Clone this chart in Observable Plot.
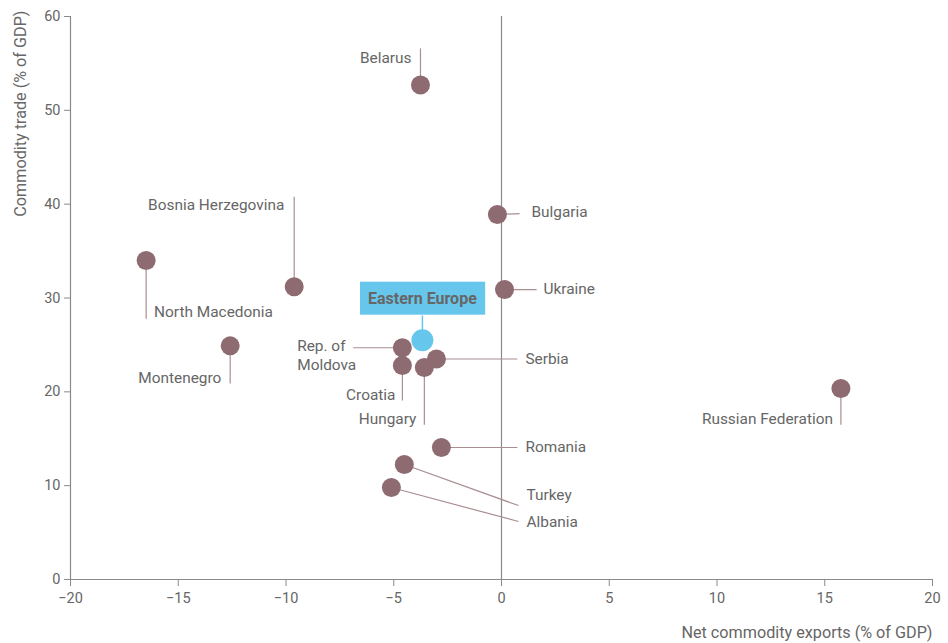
<!DOCTYPE html>
<html>
<head>
<meta charset="utf-8">
<script src="https://cdn.jsdelivr.net/npm/d3@7"></script>
<script src="https://cdn.jsdelivr.net/npm/@observablehq/plot@0.6"></script>
<style>
  html, body { margin: 0; padding: 0; background: #fff; }
  #chart svg { display: block; }
</style>
</head>
<body>
<div id="chart"></div>
<script>
// Data
const countries = ["Belarus", "Bulgaria", "Ukraine", "Bosnia Herzegovina", "North Macedonia", "Montenegro",
  "Rep. of\nMoldova", "Serbia", "Croatia", "Hungary", "Russian Federation", "Romania", "Turkey", "Albania"];
const netCommodityExports = [-3.76, -0.19, 0.14, -9.62, -16.49, -12.59, -4.6, -3.02, -4.6, -3.58, 15.75, -2.79, -4.51, -5.11];
const commodityTrade = [52.7, 38.9, 30.9, 31.2, 34.0, 24.9, 24.7, 23.5, 22.8, 22.6, 20.35, 14.07, 12.25, 9.8];

// Annotation anchors (data units): leader line ends and label positions
const leaderEndX = [-3.76, 0.84, 1.63, -9.62, -16.49, -12.59, -6.88, 0.74, -4.6, -3.58, 15.75, 0.74, 0.79, 0.79];
const leaderEndY = [56.6, 39.0, 30.9, 40.8, 27.8, 20.9, 24.7, 23.5, 19.07, 16.5, 16.5, 14.07, 7.88, 6.18];
const labelX = [-4.18, 1.39, 1.95, -10.08, -16.12, -13.0, -9.48, 1.11, -4.92, -3.95, 15.38, 1.11, 1.16, 1.16];
const labelY = [55.5, 39.1, 30.9, 39.85, 28.45, 21.4, 23.87, 23.5, 19.6, 17.05, 17.05, 14.07, 8.95, 6.07];
const labelAnchor = ["end", "start", "start", "end", "start", "end", "start", "start", "end", "end", "end", "start", "start", "start"];

const regionName = "Eastern Europe";
const regionX = -3.67;
const regionY = 25.5;
const regionLeaderEndY = 28.13;
const regionLabelY = 29.94;

const xTicks = [-20, -15, -10, -5, 0, 5, 10, 15, 20];
const yTicks = [0, 10, 20, 30, 40, 50, 60];

const xTitle = "Net commodity exports (% of GDP)";
const yTitle = "Commodity trade (% of GDP)";

const rows = countries.map((c, i) => ({
  name: c, x: netCommodityExports[i], y: commodityTrade[i],
  ex: leaderEndX[i], ey: leaderEndY[i], lx: labelX[i], ly: labelY[i], anchor: labelAnchor[i]
}));
const region = [{name: regionName, x: regionX, y: regionY, ey: regionLeaderEndY, ly: regionLabelY}];

const FONT = "Roboto, 'Liberation Sans', sans-serif";
const TEXT = "#666666";
const AXIS = "#8a8a8a";
const DOT = "#8d6b70";
const LEADER = "#a98e92";
const BLUE = "#66c6ec";
const FS = 15.4;
const TICKFS = 14.5;
const TITLEFS = 16.2;

const chart = Plot.plot({
  width: 948,
  height: 643,
  marginLeft: 70,
  marginRight: 16,
  marginTop: 16,
  marginBottom: 64,
  style: {fontFamily: FONT, fontSize: FS + "px", color: TEXT, background: "#fff"},
  x: {domain: [-20, 20], ticks: xTicks, label: null},
  y: {domain: [0, 60], ticks: yTicks, label: null},
  marks: [
    Plot.ruleX([0], {stroke: AXIS, strokeWidth: 1.2}),
    Plot.ruleX([-20], {stroke: AXIS, strokeWidth: 1.2}),
    Plot.ruleY([0], {stroke: AXIS, strokeWidth: 1.2}),
    Plot.axisX({ticks: xTicks, tickSize: 7, tickPadding: 6, stroke: AXIS, fill: TEXT, fontSize: TICKFS, label: null}),
    Plot.axisY({ticks: yTicks, tickSize: 6, tickPadding: 4, stroke: AXIS, fill: TEXT, fontSize: TICKFS, label: null}),
    Plot.link(rows, {x1: "x", y1: "y", x2: "ex", y2: "ey", stroke: LEADER, strokeWidth: 1.2}),
    Plot.link(region, {x1: "x", y1: "y", x2: "x", y2: "ey", stroke: BLUE, strokeWidth: 1.5}),
    Plot.dot(rows, {x: "x", y: "y", r: 9.5, fill: DOT}),
    Plot.dot(region, {x: "x", y: "y", r: 11, fill: BLUE}),
    Plot.text(rows.filter(d => d.anchor === "start"), {x: "lx", y: "ly", dy: -1.5, text: "name", textAnchor: "start", fill: TEXT, fontSize: FS, lineHeight: 1.25}),
    Plot.text(rows.filter(d => d.anchor === "end"), {x: "lx", y: "ly", dy: -1.5, text: "name", textAnchor: "end", fill: TEXT, fontSize: FS, lineHeight: 1.25}),
    Plot.text(region, {x: "x", y: "ly", text: "name", fill: TEXT, fontSize: 16, fontWeight: "bold", className: "region-label"}),
    Plot.text([xTitle], {frameAnchor: "bottom-right", dy: 58, textAnchor: "end", fill: TEXT, fontSize: TITLEFS}),
    Plot.text([yTitle], {frameAnchor: "top-left", dx: -56, dy: -6, rotate: -90, textAnchor: "end", fill: TEXT, fontSize: TITLEFS})
  ]
});

document.getElementById("chart").appendChild(chart);

// Blue box behind the region label
const lbl = chart.querySelector(".region-label text") || chart.querySelector("g.region-label text");
if (lbl) {
  const b = lbl.getBBox();
  const padX = 8, padY = 7;
  const rect = document.createElementNS("http://www.w3.org/2000/svg", "rect");
  rect.setAttribute("x", b.x - padX);
  rect.setAttribute("y", b.y - padY);
  rect.setAttribute("width", b.width + 2 * padX);
  rect.setAttribute("height", b.height + 2 * padY);
  rect.setAttribute("fill", BLUE);
  const g = lbl.parentNode;
  const tr = lbl.getAttribute("transform");
  if (tr) rect.setAttribute("transform", tr);
  g.insertBefore(rect, lbl);
}
</script>
</body>
</html>
